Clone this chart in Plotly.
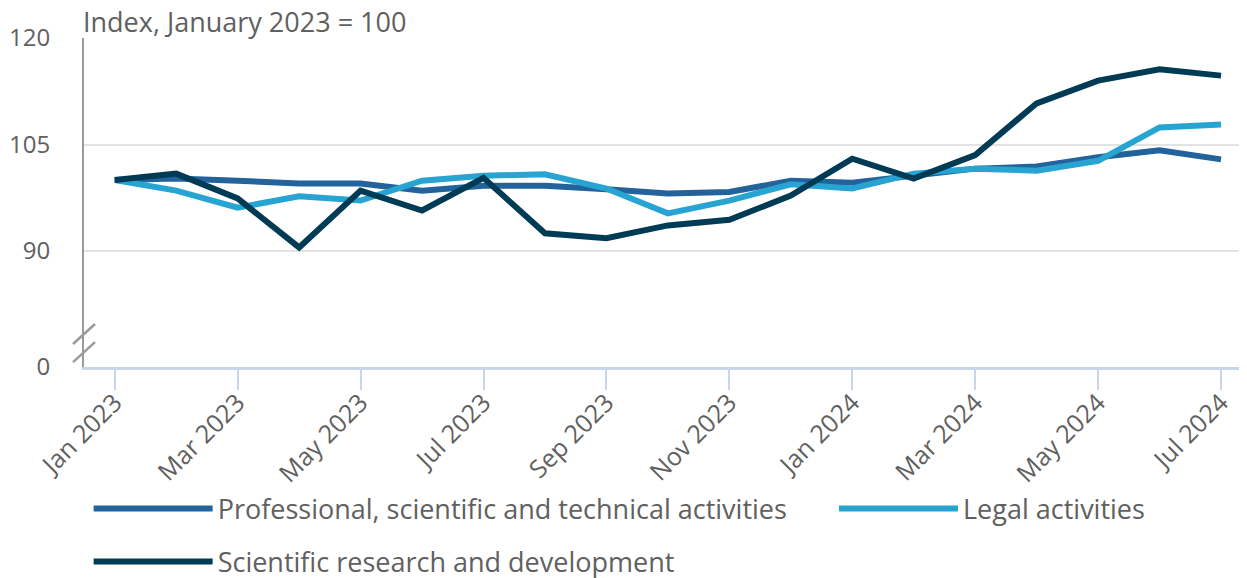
import plotly.graph_objects as go

months = ["Jan 2023", "Feb 2023", "Mar 2023", "Apr 2023", "May 2023", "Jun 2023",
          "Jul 2023", "Aug 2023", "Sep 2023", "Oct 2023", "Nov 2023", "Dec 2023",
          "Jan 2024", "Feb 2024", "Mar 2024", "Apr 2024", "May 2024", "Jun 2024",
          "Jul 2024"]

professional = [100, 100.2, 99.9, 99.5, 99.5, 98.5, 99.2, 99.2, 98.7, 98.1,
                98.3, 99.9, 99.6, 100.5, 101.6, 101.9, 103.2, 104.2, 102.9]
legal = [100, 98.5, 96.1, 97.7, 97.1, 99.9, 100.6, 100.8, 98.8, 95.3,
         97.1, 99.4, 98.8, 100.9, 101.6, 101.3, 102.7, 107.4, 107.8]
research = [100, 100.9, 97.4, 90.5, 98.5, 95.7, 100.3, 92.5, 91.8, 93.6,
            94.4, 97.8, 103.0, 100.2, 103.5, 110.8, 114.0, 115.6, 114.7]

tick_months = months[::2]
y_ticks = [90, 105, 120]
# broken axis: the "0" label sits at the bottom of the visible range
y_bottom = 73.66

font = "Open Sans"
grey = "#606060"

fig = go.Figure()
fig.add_trace(go.Scatter(x=months, y=professional, mode="lines",
                         name="Professional, scientific and technical activities",
                         line=dict(color="#22639c", width=6), legend="legend"))
fig.add_trace(go.Scatter(x=months, y=legal, mode="lines", name="Legal activities",
                         line=dict(color="#27a4d1", width=6), legend="legend2"))
fig.add_trace(go.Scatter(x=months, y=research, mode="lines",
                         name="Scientific research and development",
                         line=dict(color="#003b56", width=6), legend="legend3"))

fig.update_xaxes(
    type="category", range=[-0.5, 18.39], automargin=False,
    tickvals=tick_months, ticktext=tick_months, tickangle=-45,
    ticks="outside", ticklen=20, tickwidth=2, tickcolor="#c9d5e9",
    showline=True, linecolor="#c9d5e9", linewidth=3, ticklabelstandoff=-12,
    showgrid=False, tickfont=dict(size=25, color=grey, family=font),
)
fig.update_yaxes(
    range=[y_bottom, 120], automargin=False,
    tickvals=[y_bottom] + y_ticks, ticktext=["0"] + [str(v) for v in y_ticks],
    showline=True, linecolor="#9a9a9a", linewidth=2,
    showgrid=True, gridcolor="#e3e3e3", gridwidth=2, zeroline=False,
    ticklabelstandoff=27, tickfont=dict(size=24, color=grey, family=font),
)

# axis break marks
for yb in [y_bottom + 4.65, y_bottom + 2.1]:
    fig.add_shape(type="line", xref="paper", yref="y", xsizemode="pixel", ysizemode="pixel",
                  xanchor=0, yanchor=yb, x0=-11, x1=11, y0=-10, y1=10,
                  line=dict(color="#9a9a9a", width=2.5))

fig.add_annotation(text="Index, January 2023 = 100", xref="paper", yref="paper",
                   x=0, y=1, xanchor="left", yanchor="bottom", showarrow=False,
                   font=dict(size=27, color=grey, family=font), xshift=-2, yshift=-3,
                   borderpad=0)

legend_style = dict(orientation="h", xanchor="left", yanchor="middle",
                    font=dict(size=27, color=grey, family=font),
                    itemwidth=119, bgcolor="rgba(0,0,0,0)")
row1 = (359 - 501) / 329
row2 = (359 - 554) / 329
# page has an ~8px body margin, so the figure is drawn 8px smaller and offset
fig.update_layout(
    width=1239, height=570,
    margin=dict(l=76, r=2, t=30, b=211, autoexpand=False),
    plot_bgcolor="white", paper_bgcolor="white",
    font=dict(family=font, color=grey),
    showlegend=True,
    legend=dict(x=0.004, y=row1, **legend_style),
    legend2=dict(x=0.646, y=row1, **legend_style),
    legend3=dict(x=0.004, y=row2, **legend_style),
)

fig.write_html("out.html")
